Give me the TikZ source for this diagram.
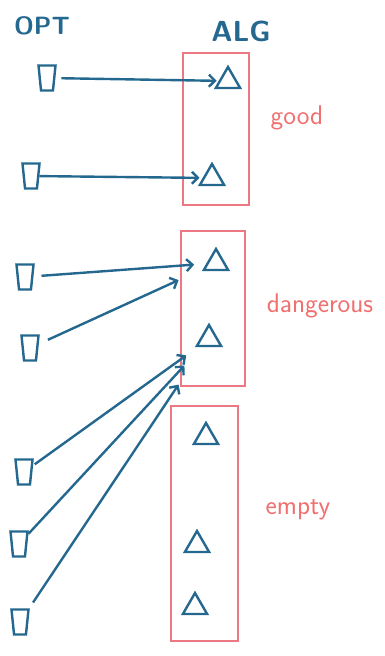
\documentclass[tikz,border=0pt]{standalone}
\usepackage{tikz}
\usetikzlibrary{arrows,arrows.meta,shapes.geometric}

\definecolor{optblue}{RGB}{36,104,143}
\definecolor{boxred}{RGB}{235,120,130}
\definecolor{labred}{RGB}{240,112,112}

\begin{document}
\begin{tikzpicture}[->,>={Straight Barb[length=6pt,width=12pt]},x=1pt,y=-1pt,
                    line width=2.4pt,optblue]
  \tikzstyle{opt}=[trapezium,trapezium angle=78,shape border rotate=180,
                   trapezium stretches=true,draw,minimum width=17pt,
                   minimum height=25pt,inner sep=1pt,-]
  \tikzstyle{alg}=[regular polygon,regular polygon sides=3,draw,
                   minimum size=28pt,inner sep=0pt,-]
  \tikzstyle{group}=[draw=boxred,line width=1.8pt,-]
  \tikzstyle{lab}=[labred,font=\sffamily\fontsize{27}{30}\selectfont]

  \useasboundingbox (0,0) rectangle (385,656);

  % headers
  \node[font=\sffamily\bfseries\fontsize{25}{28}\selectfont] (opt) at (42,26) {OPT};
  \node[font=\sffamily\bfseries\fontsize{29}{32}\selectfont] (alg) at (241,31) {ALG};

  % the three groups on the ALG side
  \draw[group] (183,53) rectangle (249,205);
  \draw[group] (181,231) rectangle (245,386);
  \draw[group] (171,406) rectangle (238,641);
  \node[lab] (good)  at (297,118) {good};
  \node[lab] (dang)  at (320,306) {dangerous};
  \node[lab] (empty) at (298,510) {empty};

  % OPT items
  \node[opt] (O1) at (47,78)  {};
  \node[opt] (O2) at (31,176) {};
  \node[opt] (O3) at (25,277) {};
  \node[opt] (O4) at (30,348) {};
  \node[opt] (O5) at (24,472) {};
  \node[opt] (O6) at (19,544) {};
  \node[opt] (O7) at (20,622) {};

  % ALG items
  \node[alg] (A1) at (228,81)  {};
  \node[alg] (A2) at (212,178) {};
  \node[alg] (A3) at (216,263) {};
  \node[alg] (A4) at (209,339) {};
  \node[alg] (A5) at (206,437) {};
  \node[alg] (A6) at (197,545) {};
  \node[alg] (A7) at (195,607) {};

  \path (O1) edge [shorten <=6pt,shorten >=2pt] (A1)
        (O2) edge [shorten <=0pt,shorten >=3pt] (A2)
        (O3) edge [shorten <=8pt,shorten >=12pt] (A3)
        (O4) edge [shorten <=10pt,shorten >=27pt] (A3)
        (O5) edge [shorten <=2pt,shorten >=14pt] (A4)
        (O6) edge [shorten <=0pt,shorten >=25pt] (A4)
        (O7) edge [shorten <=7pt,shorten >=45pt] (A4);
\end{tikzpicture}
\end{document}
